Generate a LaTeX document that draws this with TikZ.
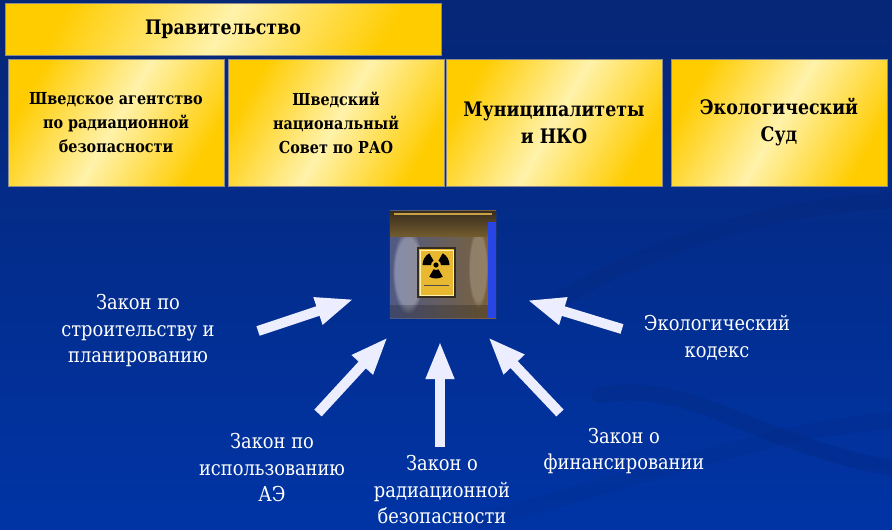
\documentclass[tikz,border=0pt]{standalone}
\usepackage{fontspec}
\setmainfont{DejaVu Serif}[FakeStretch=0.87]
\usepackage{tikz}
\usetikzlibrary{arrows.meta,fadings}
\usepackage{xcolor}
\definecolor{navy}{RGB}{6,38,118}
\definecolor{slideblue}{RGB}{0,52,165}
\definecolor{gold}{RGB}{255,204,0}
\definecolor{paleyellow}{RGB}{255,242,170}
\definecolor{arrowwhite}{RGB}{236,238,255}
\definecolor{drumgold}{RGB}{200,160,70}
\definecolor{drumgray}{RGB}{80,90,135}
\definecolor{drumbrown}{RGB}{125,98,52}
\definecolor{drumtop}{RGB}{55,44,30}
\definecolor{drumblue}{RGB}{40,70,230}
\definecolor{signyellow}{RGB}{232,184,48}

\tikzset{
  box/.style={draw=black!45, line width=0.8pt, left color=gold, right color=gold,
    middle color=paleyellow, shading angle=60, inner sep=0pt, align=center,
    minimum width=216pt, minimum height=127pt},
  boxsmall/.style={box, font=\bfseries\fontsize{16.5}{24}\selectfont},
  boxlarge/.style={box, font=\bfseries\fontsize{20}{27}\selectfont},
  law/.style={text=white, align=center, inner sep=0pt, font=\fontsize{20.5}{26.5}\selectfont},
  lawarrow/.style={draw=arrowwhite, line width=10pt, -{Triangle[length=38pt,width=26pt]}},
  swirl/.style={draw=navy, line width=16pt, opacity=0.25, line cap=round},
  fog/.style={fill=white, path fading=circle with fuzzy edge 20 percent}
}

\begin{document}
\begin{tikzpicture}[x=1pt,y=-1pt]
\useasboundingbox (0,0) rectangle (892,530);
\fill[top color=navy, bottom color=slideblue] (0,0) rectangle (892,530);
\draw[swirl] (560,300) .. controls (660,240) and (780,205) .. (900,200);
\draw[swirl] (600,395) .. controls (700,380) and (740,440) .. (900,470);
\draw[swirl, opacity=0.15] (480,520) .. controls (640,480) and (760,430) .. (900,420);

\node (gov) [box, minimum width=436pt, minimum height=52pt,
  font=\bfseries\fontsize{20}{27}\selectfont] at (223,29) {Правительство};
\node (agency) [boxsmall] at (116,122.5) {Шведское агентство\\по радиационной\\безопасности};
\node (council) [boxsmall] at (336,122.5) {Шведский\\национальный\\Совет по РАО};
\node (munic) [boxlarge] at (554,122.5) {Муниципалитеты\\и НКО};
\node (court) [boxlarge] at (779,122.5) {Экологический\\Суд};

\node (drum) [minimum width=106pt, minimum height=107pt, inner sep=0pt] at (443,264.5) {};
\shade[left color=drumgray, middle color=drumgold, right color=drumbrown]
  (drum.north west) rectangle (drum.south east);
\fill[fog, opacity=0.3] (408,272) ellipse [x radius=16, y radius=42];
\fill[fog, opacity=0.2] (478,268) ellipse [x radius=10, y radius=40];
\shade[top color=drumtop, bottom color=drumtop!60!drumgold] (390,211) rectangle (496,236);
\draw[drumgold, line width=2pt] (394,214) -- (492,214);
\fill[drumblue] (488,222) rectangle (496,318);
\fill[black, opacity=0.2] (390,305) rectangle (488,318);
\fill[signyellow, draw=drumtop, line width=1.2pt] (418,248) rectangle (455,297);
\draw[paleyellow, line width=0.6pt] (420,250) rectangle (453,295);
\foreach \a in {90,210,330}
  \fill[black] (436,265) ++(\a-30:5) arc[start angle=\a-30, end angle=\a+30, radius=5]
    -- ++(\a+30:8.5) arc[start angle=\a+30, end angle=\a-30, radius=13.5] -- cycle;
\fill[black] (436,265) circle [radius=2.6];
\draw[black!70, line width=0.8pt] (424,285) -- (449,285);

\node (build) [law] at (138,331) {Закон по\\строительству и\\планированию};
\node (ae) [law] at (272,468) {Закон по\\использованию\\АЭ};
\node (safety) [law] at (442,490) {Закон о\\радиационной\\безопасности};
\node (finance) [law] at (624,451) {Закон о\\финансировании};
\node (eco) [law] at (717,338) {Экологический\\кодекс};

\coordinate (s1) at (258,331);
\coordinate (h1) at (354,299);
\coordinate (s2) at (318,413);
\coordinate (h2) at (388,337);
\coordinate (s3) at (440,447);
\coordinate (h3) at (440,341);
\coordinate (s4) at (560,413);
\coordinate (h4) at (488,337);
\coordinate (s5) at (622,329);
\coordinate (h5) at (527,300);
\draw[lawarrow] (s1) -- (h1);
\draw[lawarrow] (s2) -- (h2);
\draw[lawarrow] (s3) -- (h3);
\draw[lawarrow] (s4) -- (h4);
\draw[lawarrow] (s5) -- (h5);
\end{tikzpicture}
\end{document}
